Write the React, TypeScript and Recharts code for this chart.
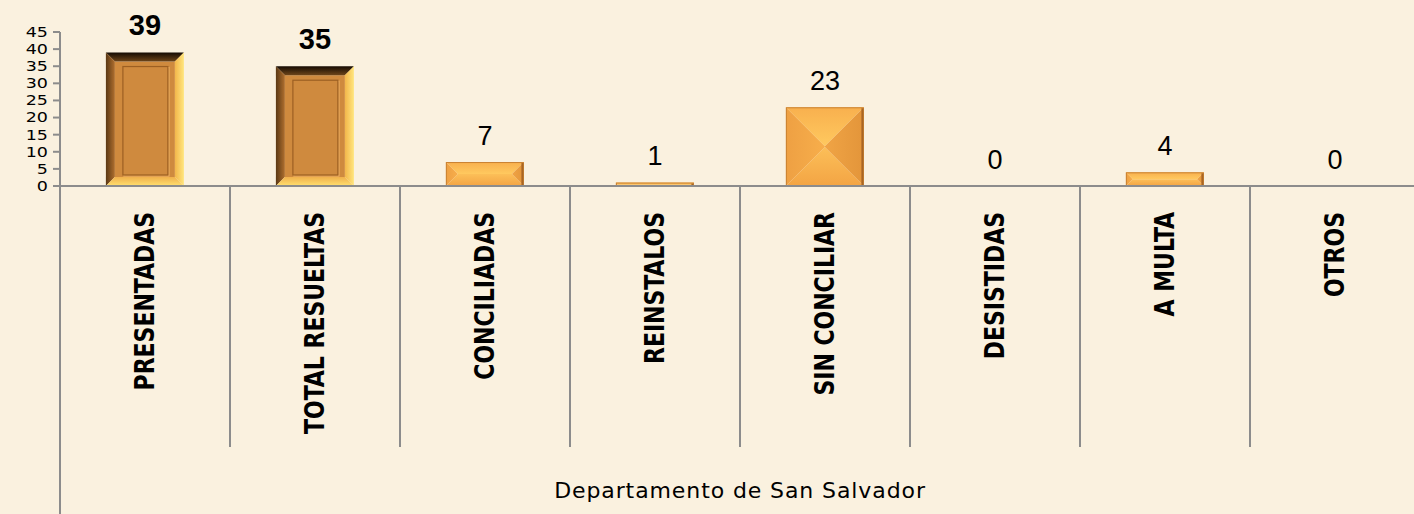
import React from "react";
import { BarChart, Bar, XAxis, YAxis, LabelList } from "recharts";

const categories = [
  "PRESENTADAS",
  "TOTAL RESUELTAS",
  "CONCILIADAS",
  "REINSTALOS",
  "SIN CONCILIAR",
  "DESISTIDAS",
  "A MULTA",
  "OTROS",
];
const values = [39, 35, 7, 1, 23, 0, 4, 0];
const highlighted = ["PRESENTADAS", "TOTAL RESUELTAS"];
const yTicks = [0, 5, 10, 15, 20, 25, 30, 35, 40, 45];
const axisTitle = "Departamento de San Salvador";

const data = categories.map((c, i) => ({ name: c, value: values[i] }));

const AXIS = "#8c8c8c";

const BarShape = (props: any) => {
  const { x, y, width: w, height: h, payload } = props;
  if (!h || h <= 0 || !w) return null;
  const isFrame = highlighted.includes(payload.name);
  if (isFrame) {
    const b = Math.min(9, w / 2, h / 2);
    const pL = 8, pT = 5, pR = 7, pB = 2;
    const ix = x + b, iy = y + b, iw = w - 2 * b, ih = h - 2 * b;
    return (
      <g>
        <rect x={ix} y={iy} width={iw} height={ih} fill="#cf8a3e" />
        <polygon points={`${x},${y} ${x + w},${y} ${x + w - b},${y + b} ${x + b},${y + b}`} fill="url(#gTopDark)" />
        <polygon points={`${x},${y} ${x + b},${y + b} ${x + b},${y + h - b} ${x},${y + h}`} fill="url(#gLeftDark)" />
        <polygon points={`${x + w},${y} ${x + w},${y + h} ${x + w - b},${y + h - b} ${x + w - b},${y + b}`} fill="url(#gRightLight)" />
        <polygon points={`${x},${y + h} ${x + w},${y + h} ${x + w - b},${y + h - b} ${x + b},${y + h - b}`} fill="url(#gBottomLight)" />
        {ih > pT + pB + 4 && iw > pL + pR + 4 && (
          <g>
            <rect x={ix + pL + 1} y={iy + pT + 1} width={iw - pL - pR} height={ih - pT - pB} fill="none" stroke="#f2b566" strokeWidth={1.2} />
            <rect x={ix + pL} y={iy + pT} width={iw - pL - pR} height={ih - pT - pB} fill="#cf8a3e" stroke="#9c5f22" strokeWidth={1.2} />
          </g>
        )}
      </g>
    );
  }
  const d = Math.min(w, h) / 2;
  const TL = `${x},${y}`, TR = `${x + w},${y}`, BR = `${x + w},${y + h}`, BL = `${x},${y + h}`;
  const ITL = `${x + d},${y + d}`, ITR = `${x + w - d},${y + d}`, IBR = `${x + w - d},${y + h - d}`, IBL = `${x + d},${y + h - d}`;
  return (
    <g>
      <polygon points={`${TL} ${TR} ${ITR} ${ITL}`} fill="url(#gPyrTop)" />
      <polygon points={`${BL} ${BR} ${IBR} ${IBL}`} fill="url(#gPyrBottom)" />
      <polygon points={`${TL} ${ITL} ${IBL} ${BL}`} fill="url(#gPyrLeft)" />
      <polygon points={`${TR} ${ITR} ${IBR} ${BR}`} fill="url(#gPyrRight)" />
      <rect x={x + 0.5} y={y + 0.5} width={w - 1} height={h - 1} fill="none" stroke="#c98232" strokeWidth={1} />
      <line x1={x + w - 1.5} y1={y + 1} x2={x + w - 1.5} y2={y + h - 1} stroke="#a86524" strokeWidth={2} />
    </g>
  );
};

const ValueLabel = (props: any) => {
  const { x, y, width, value, index } = props;
  const bold = highlighted.includes(categories[index]);
  return (
    <text
      x={x + width / 2}
      y={y - 17.5}
      textAnchor="middle"
      fill="#000"
      style={{
        fontFamily: "'Liberation Sans', Arial, sans-serif",
        fontSize: bold ? 29 : 27,
        fontWeight: bold ? 700 : 400,
      }}
    >
      {value}
    </text>
  );
};

const YTick = (props: any) => {
  const { x, y, payload } = props;
  return (
    <text
      x={0}
      y={0}
      transform={`translate(${x} ${y}) scale(1.25 1)`}
      textAnchor="end"
      dominantBaseline="central"
      fill="#000"
      style={{ fontFamily: "'DejaVu Sans', sans-serif", fontSize: 14 }}
    >
      {payload.value}
    </text>
  );
};

const CategoryTick = (props: any) => {
  const { x, y, payload, index } = props;
  const half = payload && payload.offset ? payload.offset : 0;
  const lx = x - half;
  const ly = y + 26;
  return (
    <g>
      <line x1={lx} y1={y} x2={lx} y2={index === 0 ? y + 330 : y + 261} stroke={AXIS} strokeWidth={2} />
      <text
        x={0}
        y={0}
        transform={`translate(${x} ${ly}) rotate(-90) scale(0.905 1)`}
        textAnchor="end"
        dominantBaseline="central"
        fill="#000"
        style={{
          fontFamily: "'DejaVu Sans Condensed', 'DejaVu Sans', sans-serif",
          fontSize: 27,
          fontWeight: 700,
        }}
      >
        {payload.value}
      </text>
    </g>
  );
};

export default function App() {
  return (
    <div
      style={{
        position: "absolute",
        left: 0,
        top: 0,
        width: 1414,
        height: 514,
        overflow: "hidden",
        background: "#faf1df",
      }}
    >
      <BarChart
        width={1420}
        height={514}
        data={data}
        margin={{ top: 32, right: 0, bottom: 0, left: 0 }}
        barCategoryGap="27%"
      >
        <defs>
          <linearGradient id="gTopDark" x1="0" y1="0" x2="0" y2="1">
            <stop offset="0" stopColor="#140b03" />
            <stop offset="1" stopColor="#6e4519" />
          </linearGradient>
          <linearGradient id="gLeftDark" x1="0" y1="0" x2="1" y2="0">
            <stop offset="0" stopColor="#5a3814" />
            <stop offset="1" stopColor="#b06f2e" />
          </linearGradient>
          <linearGradient id="gRightLight" x1="0" y1="0" x2="1" y2="0">
            <stop offset="0" stopColor="#f3b64a" />
            <stop offset="1" stopColor="#ffe67e" />
          </linearGradient>
          <linearGradient id="gBottomLight" x1="0" y1="0" x2="0" y2="1">
            <stop offset="0" stopColor="#f0b04c" />
            <stop offset="1" stopColor="#ffe070" />
          </linearGradient>
          <linearGradient id="gPyrTop" x1="0" y1="0" x2="0" y2="1">
            <stop offset="0" stopColor="#f8b04e" />
            <stop offset="1" stopColor="#ffc95f" />
          </linearGradient>
          <linearGradient id="gPyrBottom" x1="0" y1="1" x2="0" y2="0">
            <stop offset="0" stopColor="#f3a444" />
            <stop offset="1" stopColor="#fcbf58" />
          </linearGradient>
          <linearGradient id="gPyrLeft" x1="0" y1="0" x2="1" y2="0">
            <stop offset="0" stopColor="#eea043" />
            <stop offset="1" stopColor="#f7ae4b" />
          </linearGradient>
          <linearGradient id="gPyrRight" x1="1" y1="0" x2="0" y2="0">
            <stop offset="0" stopColor="#e3953a" />
            <stop offset="1" stopColor="#f0a445" />
          </linearGradient>
        </defs>
        <XAxis
          dataKey="name"
          type="category"
          height={328}
          interval={0}
          tickLine={false}
          tickSize={0}
          tickMargin={0}
          axisLine={{ stroke: AXIS, strokeWidth: 2 }}
          tick={<CategoryTick />}
          label={{
            value: axisTitle,
            position: "insideBottom",
            offset: 16,
            fill: "#000",
            style: { fontFamily: "'DejaVu Sans', sans-serif", fontSize: 22, letterSpacing: 0.9, fill: "#000" },
          }}
        />
        <YAxis
          domain={[0, 45]}
          ticks={yTicks}
          interval={0}
          width={60}
          tickSize={7}
          tickMargin={5}
          axisLine={{ stroke: AXIS, strokeWidth: 2 }}
          tickLine={{ stroke: AXIS, strokeWidth: 2 }}
          tick={<YTick />}
        />
        <Bar dataKey="value" isAnimationActive={false} shape={<BarShape />}>
          <LabelList dataKey="value" content={<ValueLabel />} />
        </Bar>
      </BarChart>
    </div>
  );
}
